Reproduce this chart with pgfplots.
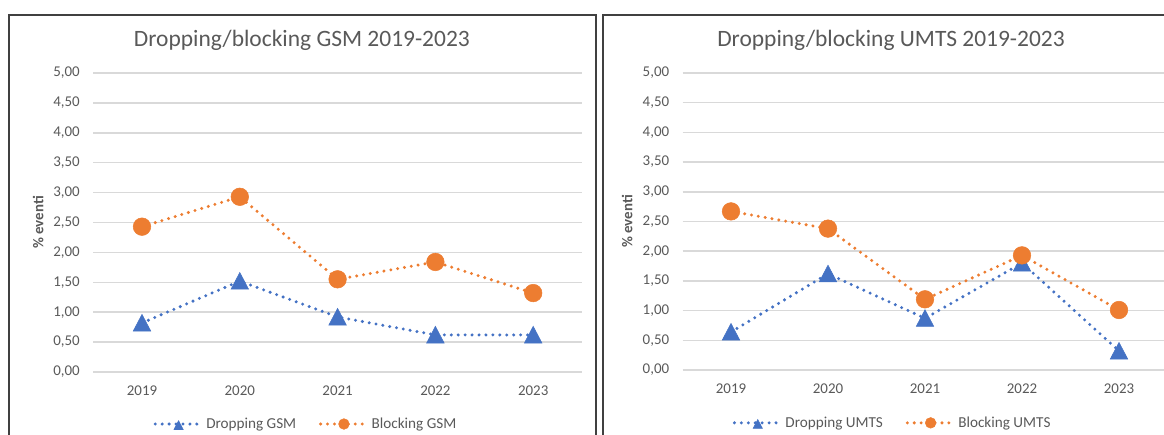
\documentclass[border=0pt]{standalone}
\usepackage{pgfplots}
\pgfplotsset{compat=1.18}
\usepackage{fontspec}
\setmainfont{Carlito}
\definecolor{cblue}{HTML}{4472C4}
\definecolor{corange}{HTML}{ED7D31}
\definecolor{ctext}{HTML}{595959}
\definecolor{cgrid}{HTML}{D9D9D9}
\definecolor{cborder}{HTML}{404040}
\pgfplotsset{
  every axis title shift=0pt,
  panel/.style={
    scale only axis, clip=false,
    axis line style={draw=none}, tick style={draw=none}, major tick length=0pt,
    xmin=-0.5, xmax=4.5, ymin=0, ymax=5,
    xtick={0,1,2,3,4}, xticklabels={2019,2020,2021,2022,2023},
    ytick={0,0.5,1,1.5,2,2.5,3,3.5,4,4.5,5},
    ymajorgrids, grid style={cgrid, line width=1.1pt},
    ticklabel style={font=\fontsize{11.2}{13}\selectfont, text=ctext},
    yticklabel style={/pgf/number format/.cd, fixed, fixed zerofill, precision=2, use comma, assume math mode=true, /tikz/.cd, xshift=-6.5pt},
    xticklabel style={yshift=-6.5pt},
    ylabel={\% eventi},
    ylabel style={font=\bfseries\fontsize{11.2}{13}\selectfont, text=ctext},
    title style={font=\fontsize{17.6}{20}\selectfont, text=ctext},
    legend style={draw=none, fill=none, legend columns=2, font=\fontsize{11.4}{13}\selectfont, text=ctext, anchor=center,
      /tikz/every even column/.append style={column sep=15pt}},
    legend cell align=left,
    legend image code/.code={\draw[mark repeat=2, mark phase=2, ##1, mark size=4pt] plot coordinates {(0pt,0pt) (17.5pt,0pt) (35pt,0pt)};},
  },
  dots/.style={line width=2.5pt, dash pattern=on 0pt off 5.2pt, line cap=round},
  drop/.style={dots, cblue, mark=triangle*, mark size=7.6pt, mark options={solid, fill=cblue, draw=cblue, line width=0.4pt, yshift=-1.9pt, yscale=1.1}},
  block/.style={dots, corange, mark=*, mark size=6.6pt, mark options={solid, fill=corange, draw=corange, line width=0.4pt}},
}
\begin{document}
\begin{tikzpicture}
\useasboundingbox (0pt,0pt) rectangle (873pt,326.25pt);
\clip (0pt,0pt) rectangle (873pt,326.25pt);
\draw[cborder, line width=1.2pt] (6.75pt,315pt) rectangle (447pt,-18.75pt);
\draw[cborder, line width=1.2pt] (452.25pt,315pt) rectangle (892.5pt,-18.75pt);
% Left panel: GSM
\begin{axis}[panel, at={(69.825pt,47.25pt)}, anchor=south west,
  width=366.75pt, height=224.25pt,
  title={Dropping/blocking GSM 2019-2023},
  title style={at={(axis description cs:0.427,1.110)}, anchor=center},
  ylabel style={at={(axis description cs:-0.1125,0.5)}, anchor=center},
  legend style={at={(axis description cs:0.436,-0.174)}, anchor=center}]
\addplot[drop] coordinates {(0,0.82) (1,1.52) (2,0.92) (3,0.62) (4,0.62)};
\addlegendentry{Dropping GSM}
\addplot[block] coordinates {(0,2.43) (1,2.93) (2,1.55) (3,1.84) (4,1.32)};
\addlegendentry{Blocking GSM}
\end{axis}
% Right panel: UMTS
\begin{axis}[panel, at={(511.875pt,48.75pt)}, anchor=south west,
  width=363.75pt, height=222.75pt,
  title={Dropping/blocking UMTS 2019-2023},
  title style={at={(axis description cs:0.430,1.111)}, anchor=center},
  ylabel style={at={(axis description cs:-0.114,0.5)}, anchor=center},
  legend style={at={(axis description cs:0.434,-0.178)}, anchor=center}]
\addplot[drop] coordinates {(0,0.64) (1,1.62) (2,0.87) (3,1.80) (4,0.32)};
\addlegendentry{Dropping UMTS}
\addplot[block] coordinates {(0,2.67) (1,2.38) (2,1.19) (3,1.93) (4,1.01)};
\addlegendentry{Blocking UMTS}
\end{axis}
\end{tikzpicture}
\end{document}
